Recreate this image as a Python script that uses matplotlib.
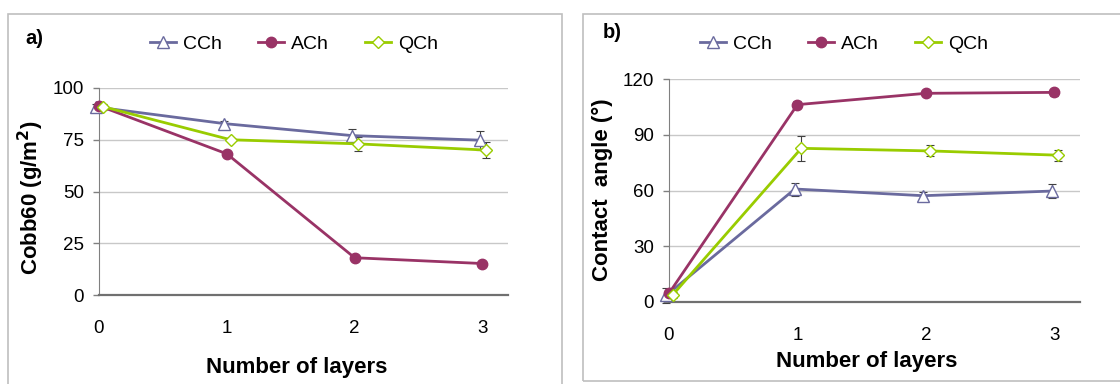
import matplotlib
matplotlib.use("Agg")
import matplotlib.pyplot as plt
from matplotlib.patches import Rectangle
import numpy as np

plt.rcParams['font.family'] = ['Liberation Sans', 'DejaVu Sans']

series = ["CCh", "ACh", "QCh"]
layers = [0, 1, 2, 3]
x_offset = {"CCh": -0.02, "ACh": 0.0, "QCh": 0.03}

# Panel a: Cobb60 (g/m2)
cobb_mean = {"CCh": [90.8, 82.8, 77.0, 74.8],
             "ACh": [91.4, 68.2, 18.0, 15.2],
             "QCh": [91.0, 75.0, 73.0, 70.0]}
cobb_err = {"CCh": [1.5, 1.2, 3.2, 4.6],
            "ACh": [1.0, 1.0, 0.8, 0.8],
            "QCh": [1.5, 0.8, 3.5, 3.8]}

# Panel b: Contact angle (deg)
ca_mean = {"CCh": [3.6, 60.8, 57.2, 59.7],
           "ACh": [4.7, 106.2, 112.3, 112.8],
           "QCh": [3.9, 82.7, 81.3, 79.0]}
ca_err = {"CCh": [4.0, 3.5, 2.0, 4.0],
          "ACh": [1.0, 2.0, 1.0, 1.8],
          "QCh": [1.5, 6.7, 3.0, 3.0]}

colors = {"CCh": "#6A6A9E", "ACh": "#993366", "QCh": "#99CC00"}
markers = {"CCh": "^", "ACh": "o", "QCh": "D"}
msizes = {"CCh": 8.5, "ACh": 7.5, "QCh": 6.5}

W, H = 1120, 384
fig = plt.figure(figsize=(W / 100, H / 100), dpi=100)

def fx(px):
    return px / W

def fy(py):
    return 1 - py / H

# panel frames
fig.patches.append(Rectangle((fx(8), fy(390)), fx(562 - 8), fy(14) - fy(390),
                             transform=fig.transFigure, fill=False,
                             edgecolor="#BFBFBF", lw=1.2))
fig.patches.append(Rectangle((fx(583), fy(381)), fx(1130 - 583), fy(14) - fy(381),
                             transform=fig.transFigure, fill=False,
                             edgecolor="#BFBFBF", lw=1.2))

def make_axes(l, t, r, b):
    return fig.add_axes([fx(l), fy(b), fx(r - l), fy(t) - fy(b)])

def draw(ax, means, errs, ylim, yticks):
    for s in series:
        xs = np.array(layers, dtype=float) + x_offset[s]
        ax.errorbar(xs, means[s], yerr=errs[s], fmt='none', ecolor="#404040",
                    elinewidth=0.8, capsize=3, capthick=0.8, zorder=2)
        face = colors[s] if s == "ACh" else "white"
        ax.plot(xs, means[s], color=colors[s], lw=2.0, marker=markers[s],
                markersize=msizes[s], markerfacecolor=face,
                markeredgecolor=colors[s], markeredgewidth=1.0, label=s,
                zorder=3)
    ax.set_xlim(0, 3.2)
    ax.set_ylim(*ylim)
    ax.set_yticks(yticks)
    ax.set_xticks(layers)
    ax.yaxis.grid(True, color="#C8C8C8", lw=1.0)
    ax.set_axisbelow(True)
    for sp in ["top", "right"]:
        ax.spines[sp].set_visible(False)
    ax.spines["left"].set_color("#808080")
    ax.spines["bottom"].set_color("#707070")
    ax.spines["bottom"].set_linewidth(1.6)
    ax.tick_params(axis="y", direction="out", length=4, width=1,
                   color="#808080", pad=7, labelsize=13.5)
    ax.tick_params(axis="x", length=0, pad=18, labelsize=13.5)
    for ln in ax.lines:
        ln.set_clip_on(False)
    leg = ax.legend(ncol=3, frameon=False, fontsize=14, handlelength=1.35,
                    handletextpad=0.35, columnspacing=1.85, loc="center left",
                    borderaxespad=0, borderpad=0)
    return leg

ax1 = make_axes(99, 88, 508, 295)
leg1 = draw(ax1, cobb_mean, cobb_err, (0, 100), [0, 25, 50, 75, 100])
leg1.set_bbox_to_anchor((fx(150), fy(44)), transform=fig.transFigure)

ax2 = make_axes(669, 79, 1080, 302)
leg2 = draw(ax2, ca_mean, ca_err, (0, 120), [0, 30, 60, 90, 120])
leg2.set_bbox_to_anchor((fx(700), fy(44)), transform=fig.transFigure)

fig.text(fx(25), fy(39), "a)", fontsize=14.5, fontweight="bold", va="center", ha="left")
fig.text(fx(603), fy(33), "b)", fontsize=14.5, fontweight="bold", va="center", ha="left")

fig.text(fx(31), fy(198), "Cobb60 (g/m$^\\mathbf{2}$)", fontsize=16, fontweight="bold",
         rotation=90, va="center", ha="center")
fig.text(fx(602), fy(190), "Contact  angle (°)", fontsize=16, fontweight="bold",
         rotation=90, va="center", ha="center")

fig.text(fx(297), fy(368), "Number of layers", fontsize=16, fontweight="bold",
         va="center", ha="center")
fig.text(fx(867), fy(361), "Number of layers", fontsize=16, fontweight="bold",
         va="center", ha="center")

fig.savefig("out.png", dpi=100)
